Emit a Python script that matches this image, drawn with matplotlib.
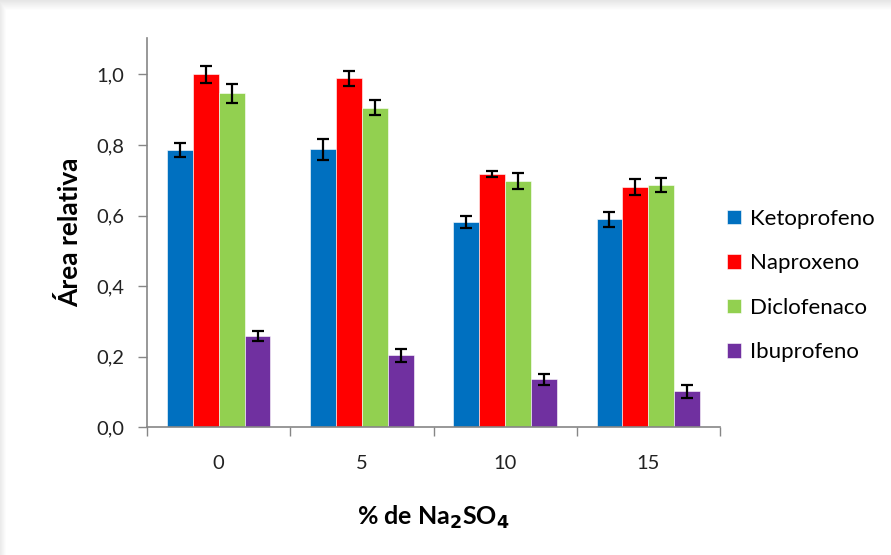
import numpy as np
import matplotlib.pyplot as plt
from matplotlib.ticker import FuncFormatter

plt.rcParams['font.family'] = ['Lato', 'DejaVu Sans']

# data
concs = ['0', '5', '10', '15']
series = ['Ketoprofeno', 'Naproxeno', 'Diclofenaco', 'Ibuprofeno']
colors = ['#0070C0', '#FF0000', '#92D050', '#7030A0']
keto = [0.786, 0.788, 0.583, 0.589]
keto_err = [0.020, 0.030, 0.017, 0.021]
napro = [1.000, 0.989, 0.718, 0.681]
napro_err = [0.025, 0.021, 0.009, 0.023]
diclo = [0.946, 0.905, 0.698, 0.687]
diclo_err = [0.026, 0.021, 0.023, 0.020]
ibu = [0.259, 0.204, 0.136, 0.102]
ibu_err = [0.014, 0.018, 0.015, 0.019]

vals = [keto, napro, diclo, ibu]
errs = [keto_err, napro_err, diclo_err, ibu_err]

fig = plt.figure(figsize=(8.91, 5.55), dpi=100)

# grey shadow along top and left edges
bg = fig.add_axes([0, 0, 1, 1], zorder=-10)
bg.set_axis_off()
H, W = 555, 891
img = np.ones((H, W))
top = np.linspace(0.90, 1.0, 11)
for k, v in enumerate(top):
    img[k, :] = np.minimum(img[k, :], v)
left = np.linspace(0.92, 1.0, 7)
for k, v in enumerate(left):
    img[:, k] = np.minimum(img[:, k], v)
bg.imshow(img, cmap='gray', vmin=0, vmax=1, aspect='auto', extent=[0, 1, 0, 1])

ax = fig.add_axes([147/891, 1-427.3/555, (720-147)/891, (427.3-38)/555])
x = np.arange(len(concs))
w = 0.181
for j in range(4):
    ax.bar(x + (j-1.5)*w, vals[j], w, color=colors[j], label=series[j],
           edgecolor='white', linewidth=0.4,
           yerr=errs[j], error_kw=dict(ecolor='black', elinewidth=1.6, capsize=4, capthick=1.6))

ax.set_xlim(-0.5, 3.5)
ax.set_ylim(0, 1.103)
ax.set_yticks(np.arange(0, 1.01, 0.2))
ax.yaxis.set_major_formatter(FuncFormatter(lambda v, p: f'{v:.1f}'.replace('.', ',')))
ax.set_xticks(x)
ax.set_xticklabels(concs)
ax.set_xticks(np.arange(-0.5, 3.6, 1), minor=True)
ax.tick_params(axis='x', which='major', length=0, pad=20, labelsize=14.5)
ax.tick_params(axis='x', which='minor', length=6.5, color='#868686', width=1)
ax.tick_params(axis='y', length=6.5, color='#868686', width=1, pad=10, labelsize=14.5, labelcolor='#222222')
ax.tick_params(axis='x', labelcolor='#222222')
for s in ['top', 'right']:
    ax.spines[s].set_visible(False)
for s in ['left', 'bottom']:
    ax.spines[s].set_color('#868686')
    ax.spines[s].set_linewidth(1.2)

ax.set_ylabel('Área relativa', fontsize=19, fontweight='bold', labelpad=10)
fig.text(433/891, 1-517/555, '% de Na$_\\mathbf{2}$SO$_\\mathbf{4}$', ha='center', va='center',
         fontsize=18, fontweight='bold')

fig.legend(loc='center left', bbox_to_anchor=(727/891, 1-285.5/555), frameon=False,
           fontsize=16, handlelength=0.64, handleheight=0.64, handletextpad=0.4,
           labelspacing=1.1, borderpad=0, borderaxespad=0)

fig.savefig('out.png', dpi=100)
